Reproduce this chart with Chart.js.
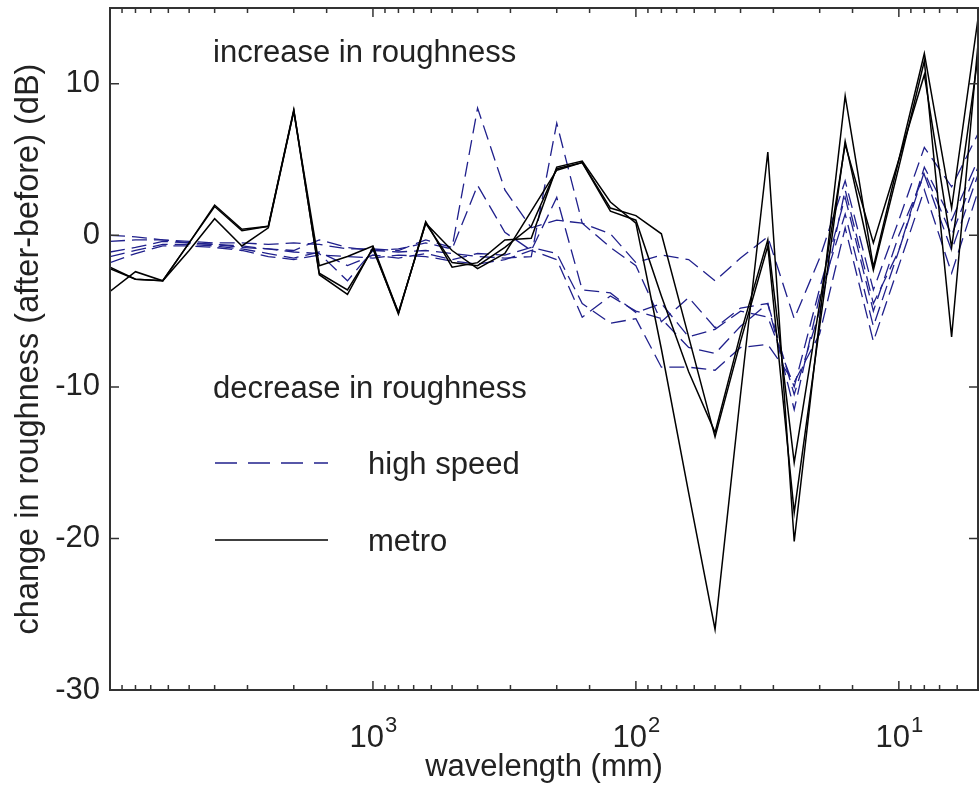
<!DOCTYPE html>
<html>
<head>
<meta charset="utf-8">
<script src="https://cdn.jsdelivr.net/npm/chart.js@4.4.0/dist/chart.umd.min.js"></script>
<style>
  html, body { margin: 0; padding: 0; background: #fff; }
  #wrap { width: 979px; height: 785px; }
</style>
</head>
<body>
<div id="wrap"><canvas id="chart" width="979" height="785"></canvas></div>
<script>
(() => {
  "use strict";

  const FONT = '"Liberation Sans", Arial, sans-serif';
  const INK = "#222";
  const BLUE = "rgb(32,32,140)";

  // third-octave wavelengths (mm), long -> short
  const wavelengths = [10000, 8000, 6300, 5000, 4000, 3150, 2500, 2000, 1600, 1250, 1000, 800, 630, 500,
    400, 315, 250, 200, 160, 125, 100, 80, 63, 50, 40, 31.5, 25, 20, 16, 12.5, 10, 8, 6.3, 5];

  // metro (solid black)
  const metro1 = [-2.1, -2.9, -3.0, -0.5, 2.0, 0.4, 0.6, 8.3, -2.6, -3.9, -0.8, -5.2, 0.9, -2.1,
    -1.8, -0.3, -0.2, 4.5, 4.9, 2.2, 0.8, -7.5, -17.0, -26.0, -10.5, 5.5, -20.2, -5.5, 9.2, -2.1, 5.0, 12.0, 1.8, 14.3];
  const metro2 = [-3.7, -2.4, -3.0, -1.0, 1.1, -0.7, 0.5, 8.2, -2.0, -1.4, -0.7, -5.1, 0.8, -1.0,
    -2.2, -1.2, 1.6, 4.3, 4.8, 1.8, 1.3, 0.1, -6.7, -13.3, -7.0, -0.7, -18.3, -6.0, 6.2, -2.3, 4.5, 11.5, -6.7, 12.6];
  const metro3 = [-2.2, -2.9, -3.0, -0.5, 1.9, 0.3, 0.6, 8.2, -2.5, -3.6, -0.9, -5.1, 0.8, -1.8,
    -2.0, -0.8, 0.6, 4.4, 4.8, 1.6, 1.0, -4.0, -9.0, -13.0, -6.5, -0.3, -15.0, -4.5, 6.0, -0.5, 5.0, 10.6, -0.8, 11.8];

  // high speed (dashed blue)
  const highSpeed1 = [0.0, -0.1, -0.3, -0.4, -0.5, -0.5, -0.6, -0.5, -0.6, -0.9, -0.9, -1.0, -0.3, -0.8,
    8.4, 3.0, 0.5, 1.0, 0.8, 0.1, -1.8, -1.3, -1.6, -3.0, -1.5, -0.1, -5.5, -1.5, 3.6, -3.6, 1.0, 5.8, 3.2, 6.7];
  const highSpeed2 = [-0.4, -0.3, -0.3, -0.5, -0.6, -0.8, -0.9, -1.0, -0.3, -0.8, -1.0, -1.1, -1.0, -1.2,
    -1.4, -1.5, -1.4, 7.4, 0.8, -0.8, -2.0, -5.7, -4.1, -6.1, -4.8, -4.5, -11.5, -4.0, 1.4, -6.0, -1.0, 4.5, 1.0, 5.0];
  const highSpeed3 = [-1.1, -0.8, -0.4, -0.5, -0.6, -0.7, -0.9, -1.1, -1.2, -3.0, -1.0, -0.9, -0.5, -0.9,
    3.3, 0.2, -1.0, 2.5, -3.6, -3.8, -5.1, -4.5, -6.7, -6.2, -5.0, -5.4, -10.0, -3.5, 2.5, -5.0, 0.0, 4.0, -1.0, 4.0];
  const highSpeed4 = [-1.4, -1.0, -0.6, -0.6, -0.7, -0.9, -1.2, -1.5, -1.1, -2.0, -1.3, -1.5, -1.2, -1.6,
    -1.2, -1.3, -0.8, -1.2, -4.5, -5.8, -5.5, -8.7, -8.7, -8.9, -7.4, -7.2, -9.7, -6.5, 0.5, -7.0, -2.0, 3.0, -2.5, 2.9];
  const highSpeed5 = [-1.8, -1.2, -0.7, -0.7, -0.8, -1.0, -1.4, -1.6, -1.3, -1.4, -1.5, -1.3, -1.4, -1.7,
    -1.9, -1.6, -1.0, -1.6, -5.4, -4.0, -5.0, -5.5, -7.4, -7.8, -6.0, -4.5, -10.5, -5.0, 3.0, -4.5, -1.0, 4.2, 0.0, 4.5];

  // ticks
  const yTickValues = [-30, -20, -10, 0, 10];
  const xLabelValues = [1000, 100, 10];
  const xLabelExps = ["3", "2", "1"];

  const toPoints = (vals) => wavelengths.map((w, i) => ({ x: w, y: vals[i] }));

  const series = (vals, kind) => ({
    data: toPoints(vals),
    borderColor: kind === "metro" ? "#000" : BLUE,
    borderWidth: kind === "metro" ? 1.5 : 1.3,
    borderDash: kind === "metro" ? [] : [15, 7],
    pointRadius: 0,
    tension: 0,
    fill: false
  });

  const datasets = [
    ...[metro1, metro2, metro3].map(v => series(v, "metro")),
    ...[highSpeed1, highSpeed2, highSpeed3, highSpeed4, highSpeed5].map(v => series(v, "hs"))
  ];

  // frame, inward ticks, x labels, notes and the hand placed legend
  const decor = {
    id: "decor",
    afterDatasetsDraw(chart) {
      const { ctx, chartArea: a, scales: { x, y } } = chart;
      ctx.save();

      ctx.strokeStyle = "#333";
      ctx.lineWidth = 2;
      ctx.strokeRect(a.left, a.top, a.right - a.left, a.bottom - a.top);

      ctx.lineWidth = 1.5;
      ctx.beginPath();
      x.ticks.forEach(t => {
        const px = x.getPixelForValue(t.value);
        const lg = Math.log10(t.value);
        const len = Math.abs(lg - Math.round(lg)) < 1e-6 ? 9 : 5;
        ctx.moveTo(px, a.bottom); ctx.lineTo(px, a.bottom - len);
        ctx.moveTo(px, a.top); ctx.lineTo(px, a.top + len);
      });
      y.ticks.forEach(t => {
        const py = y.getPixelForValue(t.value);
        ctx.moveTo(a.left, py); ctx.lineTo(a.left + 9, py);
        ctx.moveTo(a.right, py); ctx.lineTo(a.right - 9, py);
      });
      ctx.stroke();

      // x tick labels as 10 with raised exponent
      ctx.fillStyle = INK;
      ctx.textBaseline = "alphabetic";
      ctx.textAlign = "left";
      xLabelValues.forEach((v, i) => {
        const px = x.getPixelForValue(v);
        ctx.font = `31px ${FONT}`;
        const w1 = ctx.measureText("10").width;
        ctx.font = `22px ${FONT}`;
        const w2 = ctx.measureText(xLabelExps[i]).width;
        const x0 = px - (w1 + w2) / 2;
        ctx.font = `31px ${FONT}`;
        ctx.fillText("10", x0, a.bottom + 57);
        ctx.font = `22px ${FONT}`;
        ctx.fillText(xLabelExps[i], x0 + w1 + 1, a.bottom + 42);
      });

      // notes
      ctx.font = `31px ${FONT}`;
      ctx.fillText("increase in roughness", a.left + 103, a.top + 54);
      ctx.fillText("decrease in roughness", a.left + 103, a.top + 390);

      // legend
      ctx.lineWidth = 1.3;
      ctx.strokeStyle = BLUE;
      ctx.setLineDash([22, 11]);
      ctx.beginPath();
      ctx.moveTo(a.left + 105, a.top + 455); ctx.lineTo(a.left + 218, a.top + 455);
      ctx.stroke();
      ctx.lineWidth = 1.5;
      ctx.strokeStyle = "#000";
      ctx.setLineDash([]);
      ctx.beginPath();
      ctx.moveTo(a.left + 105, a.top + 532); ctx.lineTo(a.left + 218, a.top + 532);
      ctx.stroke();
      ctx.textBaseline = "middle";
      ctx.fillText("high speed", a.left + 258, a.top + 457);
      ctx.fillText("metro", a.left + 258, a.top + 534);

      ctx.restore();
    }
  };

  new Chart(document.getElementById("chart"), {
    type: "line",
    data: { datasets },
    options: {
      responsive: false,
      animation: false,
      layout: { padding: { top: 8, right: 1, left: 0, bottom: 0 } },
      plugins: { legend: { display: false }, tooltip: { enabled: false } },
      scales: {
        x: {
          type: "logarithmic",
          min: 5,
          max: 10000,
          reverse: true,
          grid: { display: false, drawTicks: false },
          border: { display: false },
          ticks: { display: false },
          title: {
            display: true,
            text: "wavelength (mm)",
            color: INK,
            font: { family: FONT, size: 31, lineHeight: 1 },
            padding: { top: 0, bottom: 2 }
          },
          afterFit: (s) => { s.height = 95; s.paddingLeft = 0; s.paddingRight = 0; }
        },
        y: {
          min: -30,
          max: 15,
          grid: { display: false, drawTicks: false },
          border: { display: false },
          afterBuildTicks: (s) => { s.ticks = yTickValues.map(v => ({ value: v })); },
          ticks: {
            autoSkip: false,
            color: INK,
            padding: 10,
            font: { family: FONT, size: 31 }
          },
          title: {
            display: true,
            text: "change in roughness (after-before) (dB)",
            color: INK,
            font: { family: FONT, size: 32.5, lineHeight: 1 },
            padding: { top: 13, bottom: 0 }
          },
          afterFit: (s) => { s.width = 110; s.paddingTop = 0; s.paddingBottom = 0; }
        }
      }
    },
    plugins: [decor]
  });
})();
</script>
</body>
</html>
